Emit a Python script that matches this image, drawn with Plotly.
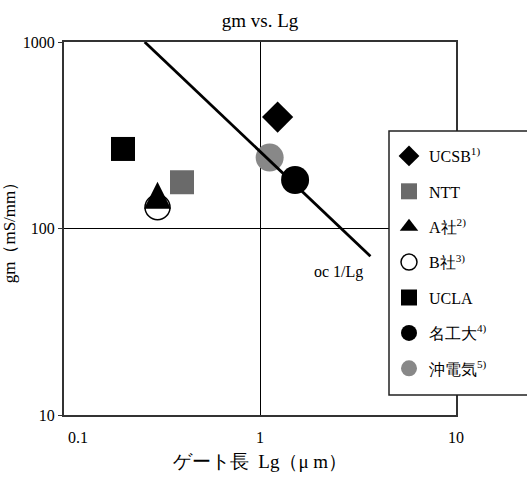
import plotly.graph_objects as go

# ---- data ----
names = ["UCSB<sup>1)</sup>", "NTT", "A社<sup>2)</sup>", "B社<sup>3)</sup>", "UCLA", "名工大<sup>4)</sup>", "沖電気<sup>5)</sup>"]
lg_vals = [1.23, 0.40, 0.30, 0.30, 0.20, 1.51, 1.12]
gm_vals = [396, 177, 178, 130, 267, 182, 240]
symbols = ["diamond", "square", "arrow-up", "circle-open", "square", "circle", "circle"]
legend_symbols = ["diamond", "square", "triangle-up", "circle-open", "square", "circle", "circle"]
colors = ["#000000", "#6a6a6a", "#000000", "#000000", "#000000", "#000000", "#888888"]
sizes = [24, 24, 27, 25, 24, 28, 28]

line_lg = [0.258, 3.66]
line_gm = [1000, 71]

x_tickvals = [0.1, 1, 10]
x_ticktext = ["\u00a0\u00a0\u00a0\u00a0\u00a0\u00a0\u00a00.1", "1", "10"]
y_tickvals = [10, 100, 1000]
y_ticktext = ["10", "100", "1000"]

FONT = "Liberation Serif"
W, H = 527, 477
ML, MR, MT, MB = 64, 71, 42, 62
PW, PH = W - ML - MR, H - MT - MB


def px_x(px):
    return (px - ML) / PW


def px_y(py):
    return (H - MB - py) / PH


def make_marker(sym, size, color):
    if sym == "circle-open":
        return dict(symbol="circle", size=size, color="white",
                    line=dict(color="black", width=1.5))
    return dict(symbol=sym, size=size, color=color, line=dict(width=0))


fig = go.Figure()
# draw order: B社 first so the triangle sits on top of it
draw_order = [0, 1, 3, 2, 4, 6, 5]
for i in draw_order:
    fig.add_trace(go.Scatter(
        x=[lg_vals[i]], y=[gm_vals[i]], mode="markers", name=names[i],
        marker=make_marker(symbols[i], sizes[i], colors[i]),
        showlegend=False, hoverinfo="skip",
    ))

# legend entries
for i in range(len(names)):
    fig.add_trace(go.Scatter(
        x=[None], y=[None], mode="markers", name=names[i],
        marker=make_marker(legend_symbols[i], sizes[i], colors[i]),
        legendgroup=f"g{i}", showlegend=True,
    ))

fig.add_trace(go.Scatter(x=line_lg, y=line_gm, mode="lines",
                         line=dict(color="black", width=2.8),
                         showlegend=False, hoverinfo="skip"))

fig.add_annotation(x=0.4, y=1.765, xref="x", yref="y", text="oc 1/Lg",
                   showarrow=False, font=dict(size=16, color="black", family=FONT))

# legend frame
fig.add_shape(type="rect", xref="paper", yref="paper",
              x0=px_x(389), x1=px_x(545), y0=px_y(395), y1=px_y(131),
              line=dict(color="#222222", width=1.5), fillcolor="white", layer="above")

fig.update_layout(
    width=W, height=H,
    margin=dict(l=ML, r=MR, t=MT, b=MB, autoexpand=False),
    paper_bgcolor="white", plot_bgcolor="white",
    font=dict(family=FONT, color="black", size=16),
    title=dict(text="gm vs. Lg", x=(ML + 456) / 2 / W, xanchor="center",
               y=1 - 20 / H, yanchor="middle", font=dict(size=19, family=FONT)),
    legend=dict(x=px_x(389), y=px_y(139), xanchor="left", yanchor="top",
                borderwidth=0, bgcolor="rgba(0,0,0,0)",
                font=dict(size=16, family=FONT), tracegroupgap=11.6,
                traceorder="grouped"),
    showlegend=True,
)
fig.update_xaxes(type="log", range=[-1, 1], tickvals=x_tickvals, ticktext=x_ticktext,
                 showgrid=True, gridcolor="black", gridwidth=1,
                 showline=True, linecolor="#333333", linewidth=2, mirror=True,
                 ticks="", ticklabelstandoff=7, zeroline=False,
                 tickfont=dict(size=16),
                 title=dict(text="ゲート長  Lg（μ m）", font=dict(size=19), standoff=9))
fig.update_yaxes(type="log", range=[1, 3], tickvals=y_tickvals, ticktext=y_ticktext,
                 showgrid=True, gridcolor="black", gridwidth=1,
                 showline=True, linecolor="#333333", linewidth=2, mirror=True,
                 ticks="outside", ticklen=4, tickcolor="#333333", zeroline=False,
                 tickfont=dict(size=16),
                 title=dict(text="gm（mS/mm）", font=dict(size=17), standoff=5))

fig.write_html("out.html", config={"displayModeBar": False},
               post_script="document.body.style.margin='0';document.body.style.overflow='hidden';")
